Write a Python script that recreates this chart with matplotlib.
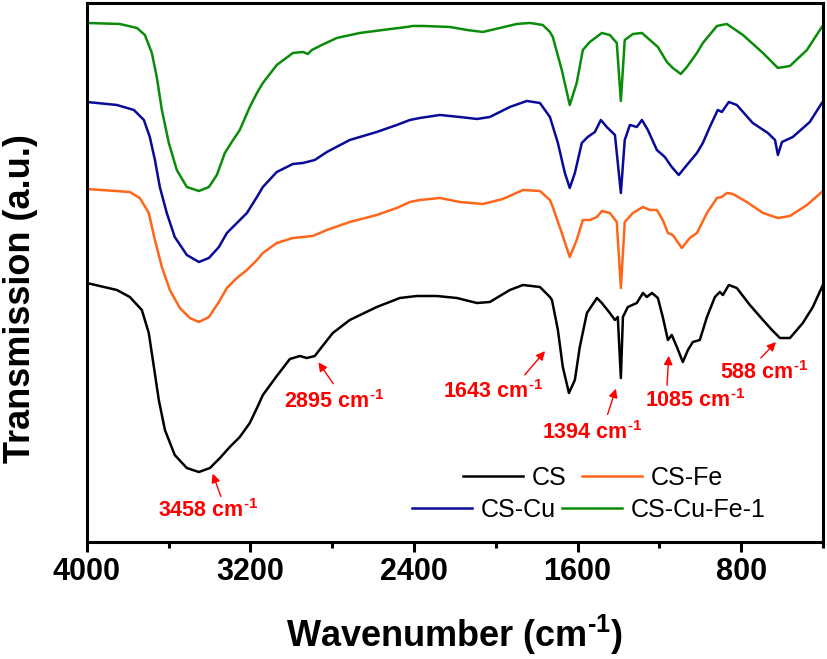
import matplotlib
matplotlib.use("Agg")
import matplotlib.pyplot as plt
from matplotlib.ticker import MultipleLocator

plt.rcParams['font.family'] = ['Liberation Sans', 'DejaVu Sans']
plt.rcParams['mathtext.default'] = 'regular'

# FTIR traces (wavenumber in cm-1, transmission in a.u.)
cs_wn = [4000, 3853, 3790, 3731, 3697, 3672, 3648, 3618, 3570, 3511, 3452, 3398, 3349, 3301,
         3252, 3203, 3168, 3139, 3071, 3007, 2958, 2924, 2885, 2851, 2797, 2714, 2582, 2469,
         2386, 2288, 2190, 2092, 2029, 1931, 1867, 1784, 1735, 1725, 1696, 1672, 1642, 1613,
         1589, 1554, 1505, 1481, 1442, 1417, 1403, 1388, 1378, 1354, 1310, 1280, 1261, 1236,
         1207, 1183, 1158, 1139, 1114, 1085, 1060, 1036, 1002, 967, 928, 904, 889, 860, 821,
         757, 693, 649, 610, 561, 498, 449, 400]
cs_t = [259, 252, 245, 232, 209, 175, 142, 112, 87, 74, 70, 74, 84, 95,
        105, 119, 134, 147, 166, 183, 186, 184, 186, 195, 209, 222, 235, 244,
        246, 246, 244, 239, 240, 252, 257, 255, 245, 242, 212, 175, 149, 162,
        195, 229, 244, 239, 229, 222, 225, 164, 225, 235, 239, 249, 245, 249,
        244, 225, 202, 207, 195, 180, 192, 200, 202, 225, 245, 250, 247, 257, 254,
        237, 222, 212, 204, 204, 219, 235, 257]

fe_wn = [4000, 3790, 3741, 3697, 3667, 3633, 3594, 3545, 3496, 3452, 3403, 3354, 3315, 3266,
         3217, 3168, 3139, 3071, 2992, 2895, 2826, 2714, 2582, 2484, 2420, 2371, 2273, 2176,
         2063, 1965, 1867, 1784, 1735, 1721, 1677, 1638, 1604, 1574, 1540, 1505, 1481, 1442,
         1408, 1388, 1369, 1329, 1280, 1246, 1212, 1183, 1158, 1134, 1090, 1051, 1016, 967,
         918, 894, 870, 840, 772, 693, 620, 561, 478, 405]
fe_t = [353, 350, 344, 329, 302, 275, 252, 234, 224, 220, 225, 240, 254, 264,
        272, 282, 289, 299, 304, 306, 312, 320, 327, 334, 340, 342, 344, 340,
        338, 343, 352, 351, 342, 335, 309, 285, 302, 322, 322, 325, 331, 329,
        320, 254, 320, 329, 335, 332, 332, 322, 309, 307, 294, 304, 309, 329,
        344, 345, 349, 348, 340, 329, 324, 326, 337, 350]

cu_wn = [4000, 3853, 3770, 3721, 3692, 3667, 3643, 3609, 3570, 3511, 3452, 3403, 3354, 3315,
         3266, 3217, 3168, 3139, 3071, 2992, 2943, 2885, 2826, 2714, 2582, 2484, 2420, 2371,
         2273, 2176, 2092, 2029, 1931, 1848, 1784, 1735, 1696, 1662, 1638, 1613, 1579, 1550,
         1515, 1486, 1457, 1417, 1388, 1369, 1344, 1310, 1285, 1256, 1212, 1173, 1139, 1105,
         1065, 1016, 987, 953, 914, 894, 860, 821, 743, 669, 634, 620, 600, 547, 464, 405]
cu_t = [440, 437, 432, 422, 405, 382, 355, 329, 305, 287, 280, 284, 295, 309,
        319, 329, 345, 355, 370, 378, 379, 382, 390, 402, 410, 417, 422, 424,
        427, 425, 423, 425, 435, 441, 439, 425, 399, 369, 354, 369, 399, 405,
        410, 422, 415, 407, 349, 402, 417, 415, 422, 412, 392, 385, 375, 367,
        377, 389, 399, 415, 432, 430, 440, 437, 419, 409, 402, 387, 400, 405, 420, 439]

cufe_wn = [4000, 3839, 3755, 3716, 3682, 3658, 3633, 3599, 3560, 3511, 3452, 3403, 3364, 3325,
           3291, 3252, 3203, 3168, 3139, 3071, 2992, 2943, 2919, 2899, 2870, 2851, 2777, 2665,
           2552, 2435, 2405, 2357, 2224, 2141, 2063, 1980, 1897, 1833, 1770, 1735, 1721, 1677,
           1638, 1604, 1574, 1540, 1481, 1442, 1408, 1388, 1369, 1329, 1285, 1246, 1207, 1163,
           1134, 1095, 1065, 1016, 987, 918, 870, 791, 693, 620, 561, 478, 405]
cufe_t = [519, 518, 514, 507, 489, 465, 432, 399, 372, 355, 351, 355, 367, 389,
          400, 412, 435, 449, 459, 477, 489, 490, 488, 492, 495, 497, 504, 509,
          512, 515, 516, 516, 515, 512, 510, 514, 518, 519, 517, 510, 505, 472,
          437, 459, 492, 500, 509, 507, 499, 441, 502, 508, 509, 502, 495, 480,
          474, 468, 475, 489, 499, 516, 518, 507, 489, 474, 476, 492, 515]

series = [("CS", cs_wn, cs_t, "black"),
          ("CS-Fe", fe_wn, fe_t, "#ff6619"),
          ("CS-Cu", cu_wn, cu_t, "#0a0a99"),
          ("CS-Cu-Fe-1", cufe_wn, cufe_t, "#0a8c0a")]

# peak labels: (text, text position, arrow tail, arrow tip)
peaks = [("3458", (3408, 31), (3340, 43), (3389, 71)),
         ("2895", (2792, 140), (2787, 156), (2875, 182)),
         ("1643", (2014, 150), (1867, 165), (1750, 193)),
         ("1394", (1530, 109), (1457, 125), (1408, 156)),
         ("1085", (1026, 141), (1163, 154), (1153, 189)),
         ("588", (689, 169), (713, 182), (620, 202))]

sup = "$^{\u20101}$"

fig = plt.figure(figsize=(8.27, 6.59), dpi=100)
ax = fig.add_axes([0.105, 0.1775, 0.89, 0.818])

lines = {}
for name, wn, t, col in series:
    lines[name], = ax.plot(wn, t, color=col, lw=1.8, solid_joinstyle="round")

for lab, txt_pos, tail, tip in peaks:
    ax.annotate("", xy=tip, xytext=tail,
                arrowprops=dict(arrowstyle="-|>", color="red", lw=1.0, mutation_scale=13))
    ax.text(txt_pos[0], txt_pos[1], lab + " cm" + sup, color="red", fontsize=15.5,
            fontweight="bold", ha="center", va="center")

ax.set_xlim(4000, 400)
ax.set_ylim(0, 539)
ax.xaxis.set_major_locator(MultipleLocator(800))
ax.xaxis.set_minor_locator(MultipleLocator(400))
ax.set_yticks([])
ax.tick_params(axis="x", which="major", direction="out", length=7, width=2.2, pad=3.5, labelsize=22)
ax.tick_params(axis="x", which="minor", direction="out", length=4, width=2.2)
for lbl in ax.get_xticklabels():
    lbl.set_fontweight("bold")
for sp in ax.spines.values():
    sp.set_linewidth(2.2)

ax.set_xlabel("Wavenumber (cm" + sup + ")", fontsize=26, fontweight="bold", labelpad=19)
ax.set_ylabel("Transmission (a.u.)", fontsize=26, fontweight="bold")
ax.yaxis.set_label_coords(-0.067, 0.451)

leg1 = ax.legend([lines["CS"], lines["CS-Fe"]], ["CS", "CS-Fe"], ncol=2, loc="center",
                 bbox_to_anchor=(0.6875, 0.119), frameon=False, fontsize=18, handlelength=2.4,
                 handletextpad=0.36, columnspacing=0.6, borderpad=0, borderaxespad=0)
ax.add_artist(leg1)
ax.legend([lines["CS-Cu"], lines["CS-Cu-Fe-1"]], ["CS-Cu", "CS-Cu-Fe-1"], ncol=2, loc="center",
          bbox_to_anchor=(0.682, 0.059), frameon=False, fontsize=18, handlelength=2.4,
          handletextpad=0.33, columnspacing=0.28, borderpad=0, borderaxespad=0)

fig.savefig("out.png", dpi=100)
